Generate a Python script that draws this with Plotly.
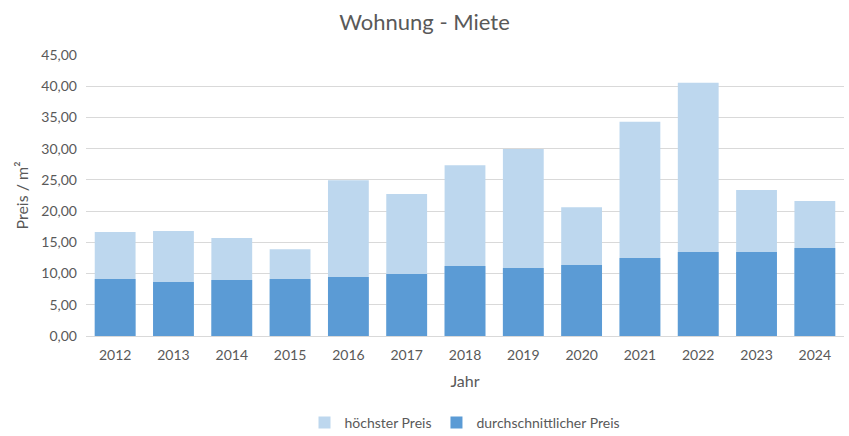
import plotly.graph_objects as go

years = ["2012", "2013", "2014", "2015", "2016", "2017", "2018", "2019", "2020", "2021", "2022", "2023", "2024"]
max_price = [16.66, 16.80, 15.70, 13.90, 24.95, 22.75, 27.35, 29.95, 20.60, 34.30, 40.55, 23.40, 21.60]
avg_price = [9.13, 8.65, 8.97, 9.13, 9.45, 9.93, 11.21, 10.89, 11.37, 12.49, 13.45, 13.45, 14.09]
y_ticks = [0, 5, 10, 15, 20, 25, 30, 35, 40, 45]

FONT = "Lato"
GREY = "#595959"

fig = go.Figure()
fig.add_trace(go.Bar(x=years, y=max_price, name="höchster Preis",
                     marker=dict(color="#BDD7EE", line=dict(width=0))))
fig.add_trace(go.Bar(x=years, y=avg_price, name="durchschnittlicher Preis",
                     marker=dict(color="#5B9BD5", line=dict(width=0))))

fig.update_layout(
    width=849, height=436,
    barmode="overlay", bargap=0.3,
    separators=",.",
    paper_bgcolor="white", plot_bgcolor="white",
    margin=dict(l=86, r=5, t=55, b=100, autoexpand=False),
    font=dict(family=FONT, color=GREY, size=14),
    title=dict(text="Wohnung - Miete", x=0.5, xanchor="center", y=0.95, yanchor="middle",
               font=dict(size=22, color=GREY, family=FONT)),
    xaxis=dict(title=dict(text="Jahr", font=dict(size=16, color=GREY), standoff=14),
               showgrid=False, showline=True, linecolor="#D9D9D9", linewidth=1,
               ticks="", ticklabelstandoff=6, tickfont=dict(size=14, color=GREY)),
    yaxis=dict(title=dict(text="Preis / m²", font=dict(size=16, color=GREY), standoff=8),
               range=[0, 45], tickvals=y_ticks, tickformat=".2f",
               showgrid=True, gridcolor="#D9D9D9", gridwidth=1, zeroline=False,
               ticks="", ticklabelstandoff=8, tickfont=dict(size=14, color=GREY)),
    legend=dict(orientation="h", x=0.5, xanchor="center", yref="container", y=0.03, yanchor="middle",
                font=dict(size=14, color=GREY), traceorder="normal", itemwidth=30),
)

fig.write_html("out.html")
